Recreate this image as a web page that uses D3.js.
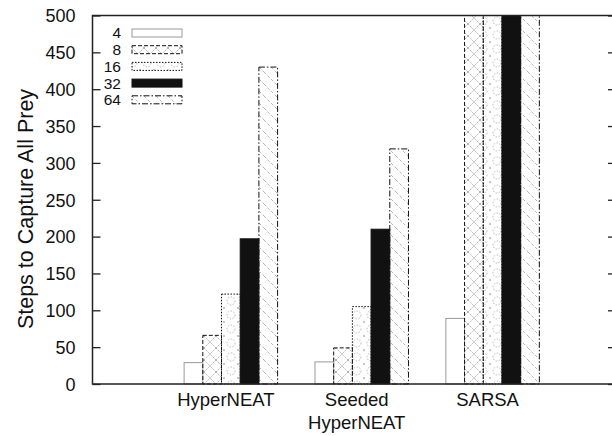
<!DOCTYPE html>
<html><head><meta charset="utf-8">
<script src="https://cdn.jsdelivr.net/npm/d3@7"></script>
<style>body{margin:0;background:#fff}svg{display:block}text{font-family:"Liberation Sans",Arial,sans-serif;fill:#111}</style>
</head><body><svg id="c" width="612" height="436"></svg>
<script>
const methods = [["HyperNEAT"], ["Seeded", "HyperNEAT"], ["SARSA"]];
const sizes = ["4", "8", "16", "32", "64"];
const hyperneat = [29, 66, 122, 197, 430];
const seeded = [30, 49, 105, 210, 319];
const sarsa = [89, 500, 500, 500, 500];
const yTicks = [0, 50, 100, 150, 200, 250, 300, 350, 400, 450, 500];
const series = [hyperneat, seeded, sarsa];

const svg = d3.select("#c");
const x = d3.scaleLinear().domain([-4.9, 23.1]).range([92.5, 616]);
const y = d3.scaleLinear().domain([0, 500]).range([384, 15.5]).clamp(true);

const defs = svg.append("defs");
const p8 = defs.append("pattern").attr("id","p8").attr("patternUnits","userSpaceOnUse").attr("width",12).attr("height",12);
p8.append("path").attr("d","M0,0L12,12M12,0L0,12").attr("stroke","#b4b4b4").attr("stroke-width",1).attr("stroke-dasharray","2,1");
const p16 = defs.append("pattern").attr("id","p16").attr("patternUnits","userSpaceOnUse").attr("width",14).attr("height",14);
p16.append("circle").attr("cx",7).attr("cy",7).attr("r",4).attr("fill","none").attr("stroke","#b4b4b4").attr("stroke-dasharray","1.5,1.5");
[[0,0],[14,0],[0,14],[14,14]].forEach(([a,b]) => p16.append("circle").attr("cx",a).attr("cy",b).attr("r",1).attr("fill","#b4b4b4"));
const p64 = defs.append("pattern").attr("id","p64").attr("patternUnits","userSpaceOnUse").attr("width",12).attr("height",12);
p64.append("path").attr("d","M0,0L12,12M-6,6L6,18M6,-6L18,6").attr("stroke","#b4b4b4").attr("stroke-width",1).attr("stroke-dasharray","3,2");

const styles = [
  {fill:"#fff", stroke:"#999", dash:null},
  {fill:"url(#p8)", stroke:"#111", dash:"4,2"},
  {fill:"url(#p16)", stroke:"#111", dash:"1.5,1.5"},
  {fill:"#111", stroke:"#111", dash:null},
  {fill:"url(#p64)", stroke:"#111", dash:"6,2,1.5,2"}
];

const bw = x(1) - x(0);
series.forEach((vals, g) => {
  vals.forEach((v, j) => {
    const st = styles[j];
    svg.append("rect")
      .attr("x", x(g*7 + j)).attr("width", bw)
      .attr("y", y(v)).attr("height", y(0) - y(v))
      .attr("fill", st.fill).attr("stroke", st.stroke).attr("stroke-width", 1)
      .attr("stroke-dasharray", st.dash);
  });
});

// frame
svg.append("rect").attr("x", x(-4.9)).attr("y", y(500)).attr("width", x(23.1)-x(-4.9)).attr("height", y(0)-y(500))
  .attr("fill","none").attr("stroke","#222").attr("stroke-width",1.5);

// y ticks both sides (inward)
const yl = svg.append("g").attr("transform", `translate(${x(-4.9)},0)`)
  .call(d3.axisLeft(y).tickValues(yTicks).tickSize(-8).tickPadding(17));
yl.select(".domain").remove();
yl.selectAll("line").attr("stroke","#222").attr("stroke-width",1.3);
yl.selectAll("text").style("font-size","18px").attr("dy","0.35em");
const yr = svg.append("g").attr("transform", `translate(${x(23.1)},0)`)
  .call(d3.axisRight(y).tickValues(yTicks).tickSize(-8).tickFormat(""));
yr.select(".domain").remove();
yr.selectAll("line").attr("stroke","#222").attr("stroke-width",1.3);

// category labels
methods.forEach((lines, g) => {
  const cx = x(g*7 + 2.5) - 5;
  const t = svg.append("text").attr("text-anchor","middle").style("font-size","18.5px")
    .attr("x", cx).attr("y", 406);
  lines.forEach((ln, k) => t.append("tspan").attr("x", cx).attr("dy", k ? 23 : 0).text(ln));
});

// y label
svg.append("text").attr("transform","translate(33,209) rotate(-90)").attr("text-anchor","middle")
  .style("font-size","21.5px").text("Steps to Capture All Prey");

// legend
sizes.forEach((s, j) => {
  const cy = 33 + j*16.7;
  svg.append("text").attr("x",121).attr("y",cy).attr("dy","0.35em").attr("text-anchor","end").style("font-size","15.5px").text(s);
  const st = styles[j];
  svg.append("rect").attr("x",132).attr("y",cy-4).attr("width",50).attr("height",8)
    .attr("fill", st.fill).attr("stroke", st.stroke).attr("stroke-width",1).attr("stroke-dasharray", st.dash);
});
</script></body></html>
